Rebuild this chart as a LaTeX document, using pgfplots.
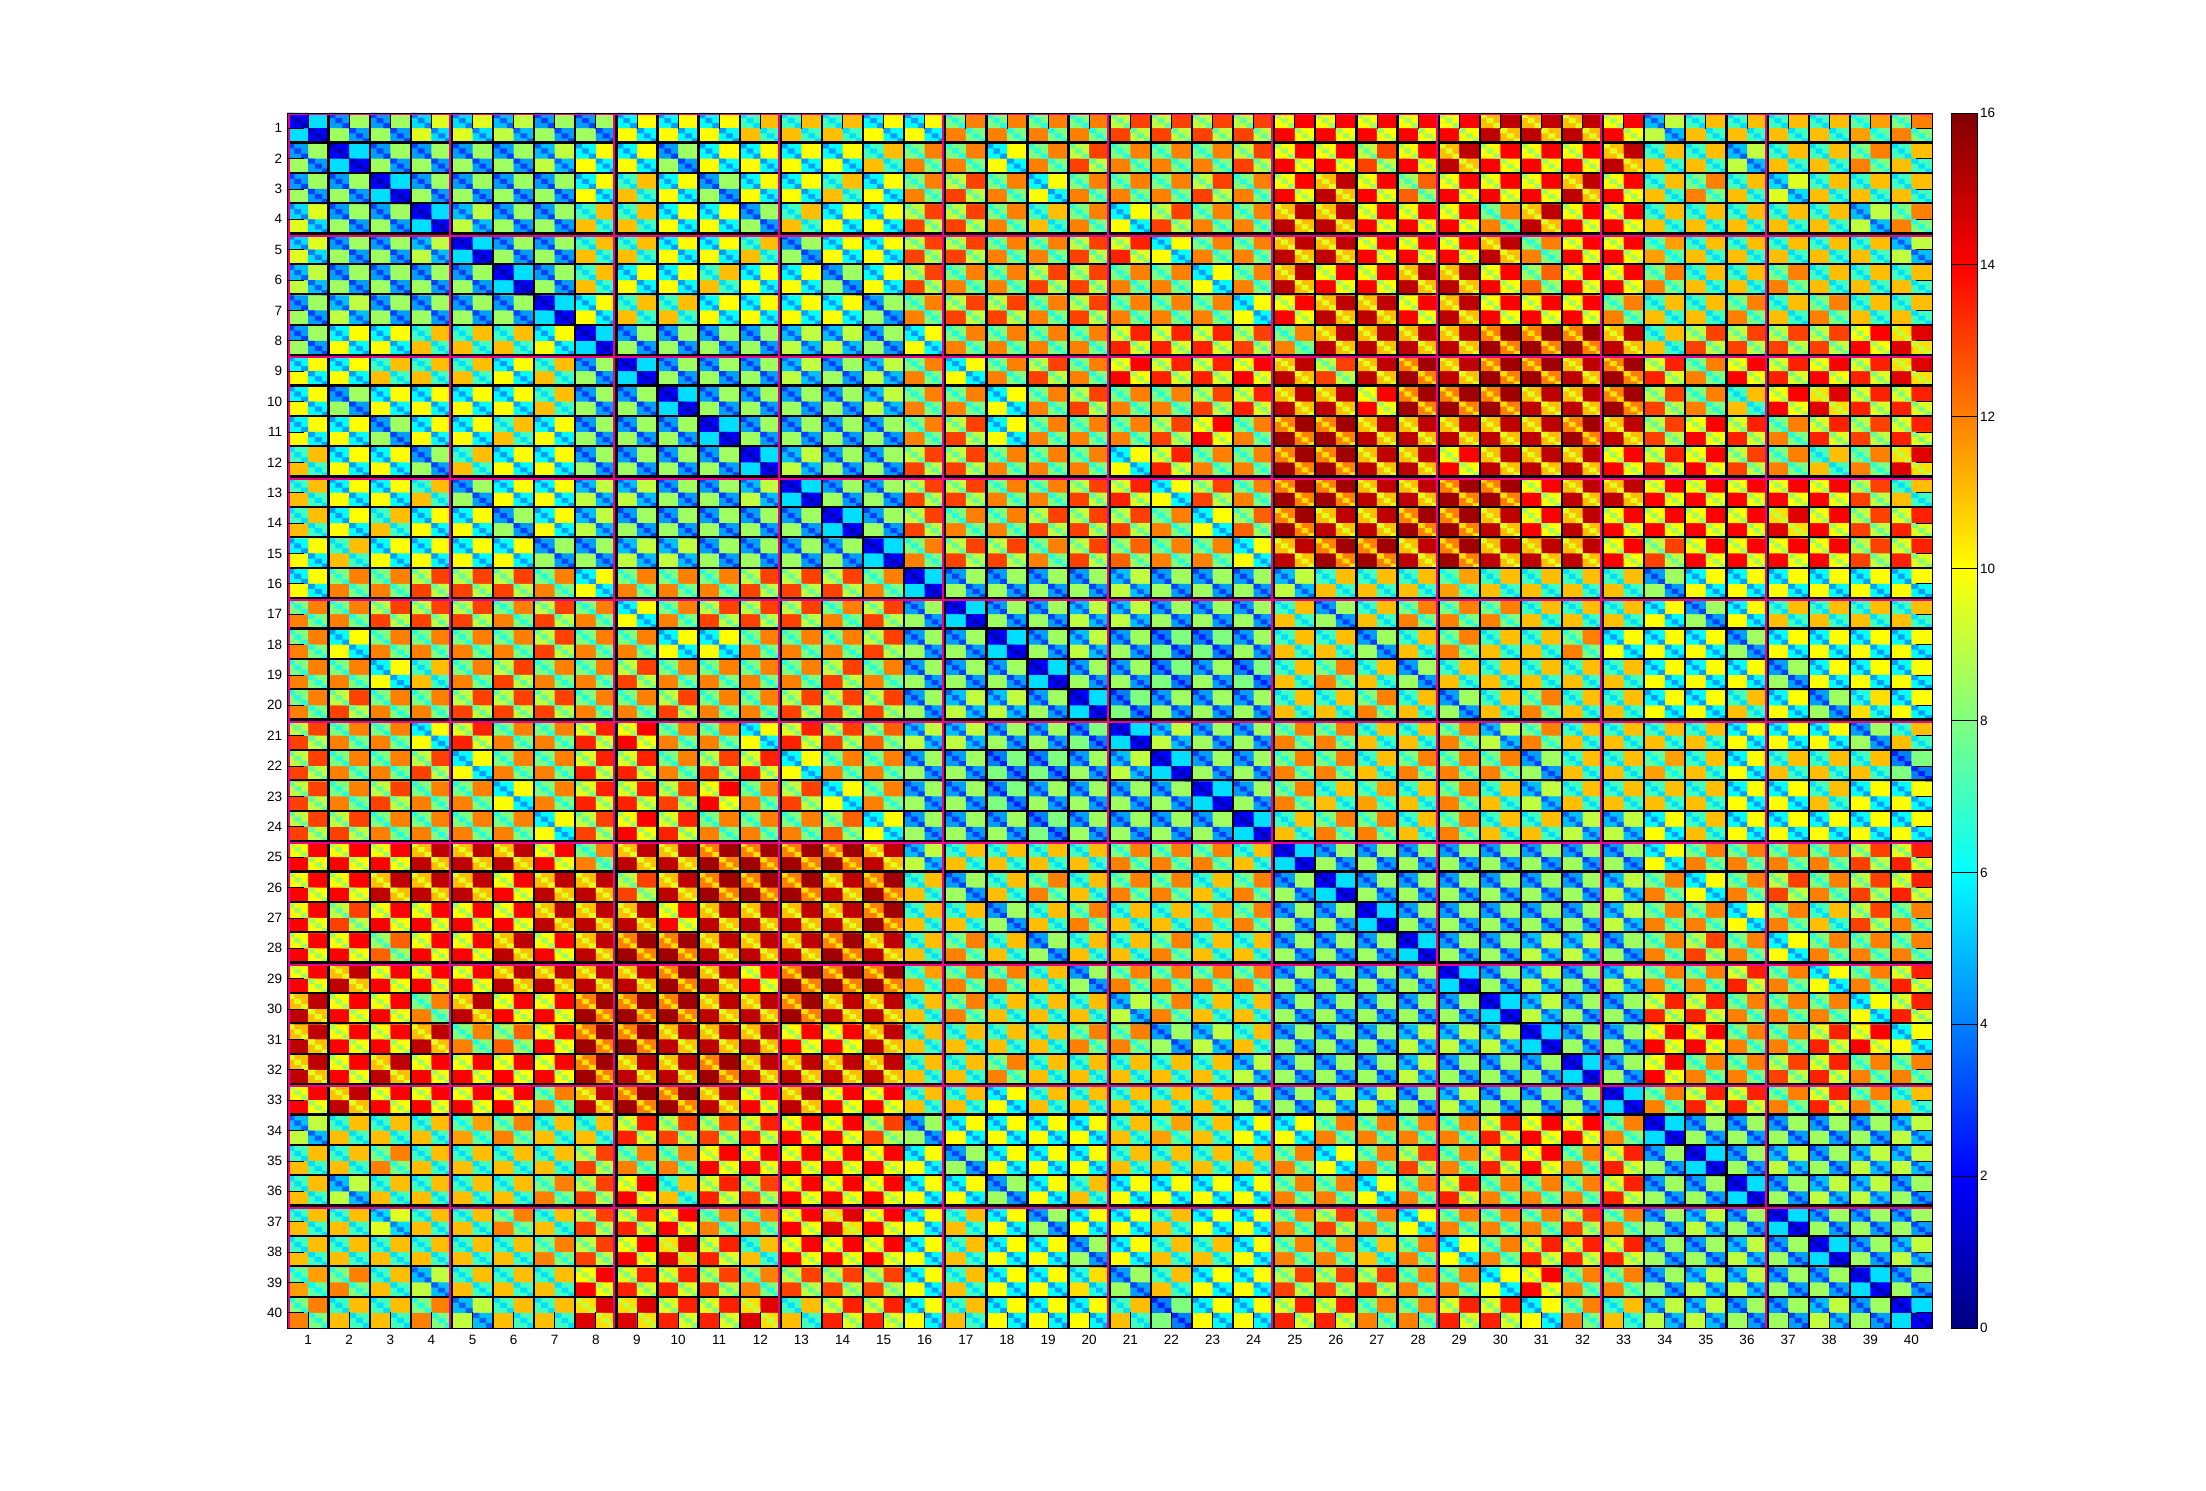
\documentclass[border=0pt]{standalone}
\usepackage{fontspec}
\setmainfont{Liberation Sans}
\usepackage{pgfplots}
\usepackage{pgfplotstable}
\pgfplotsset{compat=1.18}

% one block of the image is 41.113 x 30.375 px, 1 px = 0.5 pt
\newdimen\bw \bw=20.5565pt
\newdimen\bh \bh=15.1875pt
\newdimen\cw \cw=3.42608pt
\newdimen\ch \ch=2.53125pt
\pgfdeclareplotmark{blk}{%
  \pgfpathrectangle{\pgfpoint{-3\cw}{-3\ch}}{\pgfpoint{\bw}{\bh}}\pgfusepathqfill}
\pgfdeclareplotmark{low}{%
  \pgfpathrectangle{\pgfpoint{-3\cw}{0pt}}{\pgfpoint{3\cw}{3\ch}}%
  \pgfpathrectangle{\pgfpoint{0pt}{-3\ch}}{\pgfpoint{3\cw}{3\ch}}\pgfusepathqfill}
\pgfdeclareplotmark{dgn}{%
  \pgfpathrectangle{\pgfpoint{-3\cw}{2\ch}}{\pgfpoint{\cw}{\ch}}%
  \pgfpathrectangle{\pgfpoint{-2\cw}{1\ch}}{\pgfpoint{\cw}{\ch}}%
  \pgfpathrectangle{\pgfpoint{-1\cw}{0pt}}{\pgfpoint{\cw}{\ch}}%
  \pgfpathrectangle{\pgfpoint{0pt}{-1\ch}}{\pgfpoint{\cw}{\ch}}%
  \pgfpathrectangle{\pgfpoint{1\cw}{-2\ch}}{\pgfpoint{\cw}{\ch}}%
  \pgfpathrectangle{\pgfpoint{2\cw}{-3\ch}}{\pgfpoint{\cw}{\ch}}\pgfusepathqfill}

% off-diagonal quadrants of each block
\pgfplotstableread[header=false]{
5.5 8.5 8.5 9.5 9.5 9 8.5 8.5 10 10 10 11 11 11 10 10 12 12 12 12 13 13 13 13 14 14 14 14 14 15 15 15 14 9 11 11 11 11 11.5 12
8.5 5.5 8.5 8.5 8.5 8.5 9 10 10 8.5 10 10 10 10 11 12 12 10 12 13 12 12 12 13 14 14 13 14 15 14 14 14 15 11 11 9 11 11 12 11
8.5 8.5 5.5 8.5 8.5 8.5 8.5 10 11 10 8.5 10 10 11 10 12 13 12 10 12 12 12 13 12 14 15 14 12.5 14 14 14 15 14 11 12 11 9.5 11 11 11
9.5 8.5 8.5 5.5 9 8.5 8.5 11 11 10 10 8.5 11 10 10 13 13 12 11 12 10 13 12 12 15 15 14 14 14 12 15 14 14 11 11 11 11 11 9 12
9.5 8.5 8.5 9 5.5 8.5 8.5 11 11 10 10 11 8.5 10 10 13 13 12 12 13 13.5 10 12 12 15 15 14 14 14 15 12 14 14 11.5 11 11 11 11 11 9
9 8.5 8.5 8.5 8.5 5.5 8.5 11 10 10 11 10 10 8.5 10 13 12 12 13 13 12 12 10 12 15 14 14 15 15 14 12.5 14 14 12 11 11 12 11 11 11
8.5 9 8.5 8.5 8.5 8.5 5.5 10 11 11 10 10 10 10 8.5 12 13 13 12 13 12 12 12 10 14 15 15 14 15 14 14 14 12 11 11 12 11 12 11 11
8.5 10 10 11 11 11 10 5.5 8.5 8.5 8.5 8.5 9 9 8.5 10 12 12 12 12 13.5 13.5 13.5 13 12 15 15 15 15 15.5 15.5 15.5 15 11 13 13 13 13 14 14.5
10 10 11 11 11 10 11 8.5 5.5 8.5 8.5 8.5 9 8.5 9 12 10 12 13 12 14 13.5 13.5 14 15 13 15 15.5 15 15.5 15.5 15 15.5 13.5 12 14 13.5 14 13.5 14.5
10 8.5 10 10 10 10 11 8.5 8.5 5.5 8.5 8.5 8.5 8.5 9 12 12 10 12 13 12 12 13 13.5 15 15 14 15.5 15.5 15.5 15 15 15.5 13 12 11 14 14.5 13.5 13.5
10 10 8.5 10 10 11 10 8.5 8.5 8.5 5.5 8.5 8.5 8.5 8.5 12 13 10 12 12 12 13 14 12 15.5 15.5 15 15 15 15 15 15.5 15 13 14 13.5 12 13.5 13 13.5
11 10 10 8.5 11 10 10 8.5 8.5 8.5 8.5 5.5 9 8.5 8.5 13 13 12 12 12 10 13.5 12 12 15.5 15.5 15 15 14 15 15 15 14 13.5 14 13 12 11 12 14.5
11 10 10 11 8.5 10 10 9 9 8.5 8.5 9 5.5 8.5 8.5 13 13 12 12 13 13.5 10 13 12 15.5 15.5 15 15 15.5 15.5 14 15 15 14 14 14 14 14 13 11
11 10 11 10 10 8.5 10 9 8.5 8.5 8.5 8.5 8.5 5.5 8.5 13 12 12 13 13 13 12 10 12.5 15.5 15 15 15.5 15.5 15 14 15 14 14 14 14 14.5 14 13 13.5
10 11 10 10 10 10 8.5 8.5 9 9 8.5 8.5 8.5 8.5 5.5 12 13 13 12 13 12.5 12 12 10 15 15.5 15.5 15 15.5 15 15 15 14 13 14 14 14 14 13 13.5
10 12 12 13 13 13 12 10 12 12 12 13 13 13 12 5.5 8.5 8.5 8.5 8.5 9 8.5 8.5 8.5 9 11 11 11 11.5 11 11 11 11 8.5 10 10 10 10 10 10
12 12 13 13 13 12 13 12 10 12 13 13 13 12 13 8.5 5.5 8.5 8.5 9 9 8.5 8.5 8.5 11 8.5 11 12 12 12 11 11 11 10 8.5 10 11 11 11 11
12 10 12 12 12 12 13 12 12 10 10 12 12 12 13 8.5 8.5 5.5 8.5 9 8.5 8 8 8.5 11 11 8.5 11 12 11 11 12 10 10 10 8.5 10 10 10 10
12 12 10 11 12 13 12 12 13 12 12 12 12 13 12 8.5 8.5 8.5 5.5 8.5 8.5 8 8.5 8 11 12 11 8.5 11 11 11 11 11 10 10 10 8.5 10 10 10
12 13 12 12 13 13 13 12 12 13 12 12 13 13 13 8.5 9 9 8.5 5.5 8 8.5 8.5 8.5 11 11 12 11 8.5 11 12 11 11 10 10 11 10 8.5 10.5 10
13 12 12 10 13.5 12 12 13.5 14 12 12 10 13.5 13 12.5 9 9 8.5 8.5 8 5.5 9 8.5 8.5 12 12 11 11 12 9 12 11 11 11 11 10 10 10 8.5 11
13 12 12 13 10 12 12 13.5 13.5 12 13 13.5 10 12 12 8.5 8.5 8 8 8.5 9 5.5 8.5 8.5 12 12 11 12 12 12 8.5 11 11 11.5 11 10 11 11 11 8
13 12 13 12 12 10 12 13.5 13.5 13 14 12 13 10 12 8.5 8.5 8 8.5 8.5 8.5 8.5 5.5 8.5 12 11 11.5 11 12 11 9 11 11 11 11 10 10 11 10 10
13 13 12 12 12 12 10 13 14 13.5 12 12 12 12.5 10 8.5 8.5 8.5 8 8.5 8.5 8.5 8.5 5.5 11 12 12 11 12 11 11 9 9 10 11 10 10 10 10 10
14 14 14 15 15 15 14 12 15 15 15.5 15.5 15.5 15.5 15 9 11 11 11 11 12 12 12 11 5.5 8.5 8.5 8.5 8.5 8.5 8.5 8.5 8.5 10 12 12 12 12 13 13.5
14 14 15 15 15 14 15 15 13 15 15.5 15.5 15.5 15 15.5 11 8.5 11 12 11 12 12 11 12 8.5 5.5 8.5 8.5 8.5 8.5 8.5 8.5 9 12 10 12 13 12 13 13.5
14 13 14 14 14 14 15 15 15 14 15 15 15 15 15.5 11 11 8.5 11 12 11 11 11.5 12 8.5 8.5 5.5 8.5 8.5 8.5 8.5 8.5 9 12 12 10 12 11 13 12
14 14 12.5 14 14 15 14 15 15.5 15.5 15 15 15 15.5 15 11 12 11 8.5 11 11 12 11 11 8.5 8.5 8.5 5.5 8.5 8.5 9 9 8.5 12 13 12 10 12 12 12
14 15 14 14 14 15 15 15 15 15.5 15 14 15.5 15.5 15.5 11.5 12 12 11 8.5 12 12 12 12 8.5 8.5 8.5 8.5 5.5 8.5 9 8.5 9 12 12 13.5 12 10 12 13.5
15 14 14 12 15 14 14 15.5 15.5 15.5 15 15 15.5 15 15 11 12 11 11 11 9 12 11 11 8.5 8.5 8.5 8.5 8.5 5.5 9 8.5 8.5 13.5 13.5 12 12 12 10 13.5
15 14 14 15 12 12.5 14 15.5 15.5 15 15 15 14 14 15 11 11 11 11 12 12 8.5 9 11 8.5 8.5 8.5 9 9 9 5.5 8.5 8.5 14 14 12 12 13.5 14 10
15 14 15 14 14 14 14 15.5 15 15 15.5 15 15 15 15 11 11 12 11 11 11 11 11 9 8.5 8.5 8.5 9 8.5 8.5 8.5 5.5 8.5 14 12 12 13 13.5 12 12
14 15 14 14 14 14 12 15 15.5 15.5 15 14 15 14 14 11 11 10 11 11 11 11 11 9 8.5 9 9 8.5 9 8.5 8.5 8.5 5.5 12 13.5 13.5 12 13.5 12 11
9 11 11 11 11.5 12 11 11 13.5 13 13 13.5 14 14 13 8.5 10 10 10 10 11 11.5 11 10 10 12 12 12 12 13.5 14 14 12 5.5 8.5 8.5 8.5 8.5 8.5 9
11 11 12 11 11 11 11 13 12 12 14 14 14 14 14 10 8.5 10 10 10 11 11 11 11 12 10 12 13 12 13.5 14 12 13.5 8.5 5.5 8.5 9 8.5 9 9
11 9 11 11 11 11 12 13 14 11 13.5 13 14 14 14 10 10 8.5 10 11 10 10 10 10 12 12 10 12 13.5 12 12 12 13.5 8.5 8.5 5.5 8.5 9 9 8.5
11 11 9.5 11 11 12 11 13 13.5 14 12 12 14 14.5 14 10 11 10 8.5 10 10 11 10 10 12 13 12 10 12 12 12 13 12 8.5 9 8.5 5.5 8.5 8.5 8.5
11 11 11 11 11 11 12 13 14 14.5 13.5 11 14 14 14 10 11 10 10 8.5 10 11 11 10 12 12 11 12 10 12 13.5 13.5 13.5 8.5 8.5 9 8.5 5.5 8.5 9
11.5 12 11 9 11 11 11 14 13.5 13.5 13 12 13 13 13 10 11 10 10 10.5 8.5 11 10 10 13 13 13 12 12 10 14 12 12 8.5 9 9 8.5 8.5 5.5 8.5
12 11 11 12 9 11 11 14.5 14.5 13.5 13.5 14.5 11 13.5 13.5 10 11 10 10 10 11 8 10 10 13.5 13.5 12 12 13.5 13.5 10 12 11 9 9 8.5 8.5 9 8.5 5.5
}\tH
% top-left and bottom-right quadrants
\pgfplotstableread[header=false]{
2 4.5 4.5 5.5 5.5 5 4.5 4.5 6 6 6 7 7 7 6 6 8 8 8 8 9 9 9 9 10 10 10 10 10 11 11 11 10 5 7 7 7 7 7.5 8
4.5 2 4.5 4.5 4.5 4.5 5 6 6 4.5 6 6 6 6 7 8 8 6 8 9 8 8 8 9 10 10 9 10 11 10 10 10 11 7 7 5 7 7 8 7
4.5 4.5 2 4.5 4.5 4.5 4.5 6 7 6 4.5 6 6 7 6 8 9 8 6 8 8 8 9 8 10 11 10 8.5 10 10 10 11 10 7 8 7 5.5 7 7 7
5.5 4.5 4.5 2 5 4.5 4.5 7 7 6 6 4.5 7 6 6 9 9 8 7 8 6 9 8 8 11 11 10 10 10 8 11 10 10 7 7 7 7 7 5 8
5.5 4.5 4.5 5 2 4.5 4.5 7 7 6 6 7 4.5 6 6 9 9 8 8 9 9.5 6 8 8 11 11 10 10 10 11 8 10 10 7.5 7 7 7 7 7 5
5 4.5 4.5 4.5 4.5 2 4.5 7 6 6 7 6 6 4.5 6 9 8 8 9 9 8 8 6 8 11 10 10 11 11 10 8.5 10 10 8 7 7 8 7 7 7
4.5 5 4.5 4.5 4.5 4.5 2 6 7 7 6 6 6 6 4.5 8 9 9 8 9 8 8 8 6 10 11 11 10 11 10 10 10 8 7 7 8 7 8 7 7
4.5 6 6 7 7 7 6 2 4.5 4.5 4.5 4.5 5 5 4.5 6 8 8 8 8 9.5 9.5 9.5 9 8 11 11 11 11 12 12 12 11 7 9 9 9 9 10 10.5
6 6 7 7 7 6 7 4.5 2 4.5 4.5 4.5 5 4.5 5 8 6 8 9 8 10 9.5 9.5 10 11 9 11 12 11 12 12 11 12 9.5 8 10 9.5 10 9.5 10.5
6 4.5 6 6 6 6 7 4.5 4.5 2 4.5 4.5 4.5 4.5 5 8 8 6 8 9 8 8 9 9.5 11 11 10 12 12 12 11 11 12 9 8 7 10 10.5 9.5 9.5
6 6 4.5 6 6 7 6 4.5 4.5 4.5 2 4.5 4.5 4.5 4.5 8 9 6 8 8 8 9 10 8 12 12 11 11 11 11 11 12 11 9 10 9.5 8 9.5 9 9.5
7 6 6 4.5 7 6 6 4.5 4.5 4.5 4.5 2 5 4.5 4.5 9 9 8 8 8 6 9.5 8 8 12 12 11 11 10 11 11 11 10 9.5 10 9 8 7 8 10.5
7 6 6 7 4.5 6 6 5 5 4.5 4.5 5 2 4.5 4.5 9 9 8 8 9 9.5 6 9 8 12 12 11 11 12 12 10 11 11 10 10 10 10 10 9 7
7 6 7 6 6 4.5 6 5 4.5 4.5 4.5 4.5 4.5 2 4.5 9 8 8 9 9 9 8 6 8.5 12 11 11 12 12 11 10 11 10 10 10 10 10.5 10 9 9.5
6 7 6 6 6 6 4.5 4.5 5 5 4.5 4.5 4.5 4.5 2 8 9 9 8 9 8.5 8 8 6 11 12 12 11 12 11 11 11 10 9 10 10 10 10 9 9.5
6 8 8 9 9 9 8 6 8 8 8 9 9 9 8 2 4.5 4.5 4.5 4.5 5 4.5 4.5 4.5 5 7 7 7 7.5 7 7 7 7 4.5 6 6 6 6 6 6
8 8 9 9 9 8 9 8 6 8 9 9 9 8 9 4.5 2 4.5 4.5 5 5 4.5 4.5 4.5 7 4.5 7 8 8 8 7 7 7 6 4.5 6 7 7 7 7
8 6 8 8 8 8 9 8 8 6 6 8 8 8 9 4.5 4.5 2 4.5 5 4.5 4 4 4.5 7 7 4.5 7 8 7 7 8 6 6 6 4.5 6 6 6 6
8 8 6 7 8 9 8 8 9 8 8 8 8 9 8 4.5 4.5 4.5 2 4.5 4.5 4 4.5 4 7 8 7 4.5 7 7 7 7 7 6 6 6 4.5 6 6 6
8 9 8 8 9 9 9 8 8 9 8 8 9 9 9 4.5 5 5 4.5 2 4 4.5 4.5 4.5 7 7 8 7 4.5 7 8 7 7 6 6 7 6 4.5 6.5 6
9 8 8 6 9.5 8 8 9.5 10 8 8 6 9.5 9 8.5 5 5 4.5 4.5 4 2 5 4.5 4.5 8 8 7 7 8 5 8 7 7 7 7 6 6 6 4.5 7
9 8 8 9 6 8 8 9.5 9.5 8 9 9.5 6 8 8 4.5 4.5 4 4 4.5 5 2 4.5 4.5 8 8 7 8 8 8 4.5 7 7 7.5 7 6 7 7 7 4
9 8 9 8 8 6 8 9.5 9.5 9 10 8 9 6 8 4.5 4.5 4 4.5 4.5 4.5 4.5 2 4.5 8 7 7.5 7 8 7 5 7 7 7 7 6 6 7 6 6
9 9 8 8 8 8 6 9 10 9.5 8 8 8 8.5 6 4.5 4.5 4.5 4 4.5 4.5 4.5 4.5 2 7 8 8 7 8 7 7 5 5 6 7 6 6 6 6 6
10 10 10 11 11 11 10 8 11 11 12 12 12 12 11 5 7 7 7 7 8 8 8 7 2 4.5 4.5 4.5 4.5 4.5 4.5 4.5 4.5 6 8 8 8 8 9 9.5
10 10 11 11 11 10 11 11 9 11 12 12 12 11 12 7 4.5 7 8 7 8 8 7 8 4.5 2 4.5 4.5 4.5 4.5 4.5 4.5 5 8 6 8 9 8 9 9.5
10 9 10 10 10 10 11 11 11 10 11 11 11 11 12 7 7 4.5 7 8 7 7 7.5 8 4.5 4.5 2 4.5 4.5 4.5 4.5 4.5 5 8 8 6 8 7 9 8
10 10 8.5 10 10 11 10 11 12 12 11 11 11 12 11 7 8 7 4.5 7 7 8 7 7 4.5 4.5 4.5 2 4.5 4.5 5 5 4.5 8 9 8 6 8 8 8
10 11 10 10 10 11 11 11 11 12 11 10 12 12 12 7.5 8 8 7 4.5 8 8 8 8 4.5 4.5 4.5 4.5 2 4.5 5 4.5 5 8 8 9.5 8 6 8 9.5
11 10 10 8 11 10 10 12 12 12 11 11 12 11 11 7 8 7 7 7 5 8 7 7 4.5 4.5 4.5 4.5 4.5 2 5 4.5 4.5 9.5 9.5 8 8 8 6 9.5
11 10 10 11 8 8.5 10 12 12 11 11 11 10 10 11 7 7 7 7 8 8 4.5 5 7 4.5 4.5 4.5 5 5 5 2 4.5 4.5 10 10 8 8 9.5 10 6
11 10 11 10 10 10 10 12 11 11 12 11 11 11 11 7 7 8 7 7 7 7 7 5 4.5 4.5 4.5 5 4.5 4.5 4.5 2 4.5 10 8 8 9 9.5 8 8
10 11 10 10 10 10 8 11 12 12 11 10 11 10 10 7 7 6 7 7 7 7 7 5 4.5 5 5 4.5 5 4.5 4.5 4.5 2 8 9.5 9.5 8 9.5 8 7
5 7 7 7 7.5 8 7 7 9.5 9 9 9.5 10 10 9 4.5 6 6 6 6 7 7.5 7 6 6 8 8 8 8 9.5 10 10 8 2 4.5 4.5 4.5 4.5 4.5 5
7 7 8 7 7 7 7 9 8 8 10 10 10 10 10 6 4.5 6 6 6 7 7 7 7 8 6 8 9 8 9.5 10 8 9.5 4.5 2 4.5 5 4.5 5 5
7 5 7 7 7 7 8 9 10 7 9.5 9 10 10 10 6 6 4.5 6 7 6 6 6 6 8 8 6 8 9.5 8 8 8 9.5 4.5 4.5 2 4.5 5 5 4.5
7 7 5.5 7 7 8 7 9 9.5 10 8 8 10 10.5 10 6 7 6 4.5 6 6 7 6 6 8 9 8 6 8 8 8 9 8 4.5 5 4.5 2 4.5 4.5 4.5
7 7 7 7 7 7 8 9 10 10.5 9.5 7 10 10 10 6 7 6 6 4.5 6 7 7 6 8 8 7 8 6 8 9.5 9.5 9.5 4.5 4.5 5 4.5 2 4.5 5
7.5 8 7 5 7 7 7 10 9.5 9.5 9 8 9 9 9 6 7 6 6 6.5 4.5 7 6 6 9 9 9 8 8 6 10 8 8 4.5 5 5 4.5 4.5 2 4.5
8 7 7 8 5 7 7 10.5 10.5 9.5 9.5 10.5 7 9.5 9.5 6 7 6 6 6 7 4 6 6 9.5 9.5 8 8 9.5 9.5 6 8 7 5 5 4.5 4.5 5 4.5 2
}\tL
% the six diagonal cells
\pgfplotstableread[header=false]{
0.8 3 3 4 4 3.5 3 3 4.5 4.5 4.5 5.5 5.5 5.5 4.5 4.5 6.5 6.5 6.5 6.5 7.5 7.5 7.5 7.5 8.5 8.5 8.5 8.5 8.5 9.5 9.5 9.5 8.5 3.5 5.5 5.5 5.5 5.5 6 6.5
3 0.8 3 3 3 3 3.5 4.5 4.5 3 4.5 4.5 4.5 4.5 5.5 6.5 6.5 4.5 6.5 7.5 6.5 6.5 6.5 7.5 8.5 8.5 7.5 8.5 9.5 8.5 8.5 8.5 9.5 5.5 5.5 3.5 5.5 5.5 6.5 5.5
3 3 0.8 3 3 3 3 4.5 5.5 4.5 3 4.5 4.5 5.5 4.5 6.5 7.5 6.5 4.5 6.5 6.5 6.5 7.5 6.5 8.5 9.5 8.5 7 8.5 8.5 8.5 9.5 8.5 5.5 6.5 5.5 4 5.5 5.5 5.5
4 3 3 0.8 3.5 3 3 5.5 5.5 4.5 4.5 3 5.5 4.5 4.5 7.5 7.5 6.5 5.5 6.5 4.5 7.5 6.5 6.5 9.5 9.5 8.5 8.5 8.5 6.5 9.5 8.5 8.5 5.5 5.5 5.5 5.5 5.5 3.5 6.5
4 3 3 3.5 0.8 3 3 5.5 5.5 4.5 4.5 5.5 3 4.5 4.5 7.5 7.5 6.5 6.5 7.5 8 4.5 6.5 6.5 9.5 9.5 8.5 8.5 8.5 9.5 6.5 8.5 8.5 6 5.5 5.5 5.5 5.5 5.5 3.5
3.5 3 3 3 3 0.8 3 5.5 4.5 4.5 5.5 4.5 4.5 3 4.5 7.5 6.5 6.5 7.5 7.5 6.5 6.5 4.5 6.5 9.5 8.5 8.5 9.5 9.5 8.5 7 8.5 8.5 6.5 5.5 5.5 6.5 5.5 5.5 5.5
3 3.5 3 3 3 3 0.8 4.5 5.5 5.5 4.5 4.5 4.5 4.5 3 6.5 7.5 7.5 6.5 7.5 6.5 6.5 6.5 4.5 8.5 9.5 9.5 8.5 9.5 8.5 8.5 8.5 6.5 5.5 5.5 6.5 5.5 6.5 5.5 5.5
3 4.5 4.5 5.5 5.5 5.5 4.5 0.8 3 3 3 3 3.5 3.5 3 4.5 6.5 6.5 6.5 6.5 8 8 8 7.5 6.5 9.5 9.5 9.5 9.5 10.5 10.5 10.5 9.5 5.5 7.5 7.5 7.5 7.5 8.5 9
4.5 4.5 5.5 5.5 5.5 4.5 5.5 3 0.8 3 3 3 3.5 3 3.5 6.5 4.5 6.5 7.5 6.5 8.5 8 8 8.5 9.5 7.5 9.5 10.5 9.5 10.5 10.5 9.5 10.5 8 6.5 8.5 8 8.5 8 9
4.5 3 4.5 4.5 4.5 4.5 5.5 3 3 0.8 3 3 3 3 3.5 6.5 6.5 4.5 6.5 7.5 6.5 6.5 7.5 8 9.5 9.5 8.5 10.5 10.5 10.5 9.5 9.5 10.5 7.5 6.5 5.5 8.5 9 8 8
4.5 4.5 3 4.5 4.5 5.5 4.5 3 3 3 0.8 3 3 3 3 6.5 7.5 4.5 6.5 6.5 6.5 7.5 8.5 6.5 10.5 10.5 9.5 9.5 9.5 9.5 9.5 10.5 9.5 7.5 8.5 8 6.5 8 7.5 8
5.5 4.5 4.5 3 5.5 4.5 4.5 3 3 3 3 0.8 3.5 3 3 7.5 7.5 6.5 6.5 6.5 4.5 8 6.5 6.5 10.5 10.5 9.5 9.5 8.5 9.5 9.5 9.5 8.5 8 8.5 7.5 6.5 5.5 6.5 9
5.5 4.5 4.5 5.5 3 4.5 4.5 3.5 3.5 3 3 3.5 0.8 3 3 7.5 7.5 6.5 6.5 7.5 8 4.5 7.5 6.5 10.5 10.5 9.5 9.5 10.5 10.5 8.5 9.5 9.5 8.5 8.5 8.5 8.5 8.5 7.5 5.5
5.5 4.5 5.5 4.5 4.5 3 4.5 3.5 3 3 3 3 3 0.8 3 7.5 6.5 6.5 7.5 7.5 7.5 6.5 4.5 7 10.5 9.5 9.5 10.5 10.5 9.5 8.5 9.5 8.5 8.5 8.5 8.5 9 8.5 7.5 8
4.5 5.5 4.5 4.5 4.5 4.5 3 3 3.5 3.5 3 3 3 3 0.8 6.5 7.5 7.5 6.5 7.5 7 6.5 6.5 4.5 9.5 10.5 10.5 9.5 10.5 9.5 9.5 9.5 8.5 7.5 8.5 8.5 8.5 8.5 7.5 8
4.5 6.5 6.5 7.5 7.5 7.5 6.5 4.5 6.5 6.5 6.5 7.5 7.5 7.5 6.5 0.8 3 3 3 3 3.5 3 3 3 3.5 5.5 5.5 5.5 6 5.5 5.5 5.5 5.5 3 4.5 4.5 4.5 4.5 4.5 4.5
6.5 6.5 7.5 7.5 7.5 6.5 7.5 6.5 4.5 6.5 7.5 7.5 7.5 6.5 7.5 3 0.8 3 3 3.5 3.5 3 3 3 5.5 3 5.5 6.5 6.5 6.5 5.5 5.5 5.5 4.5 3 4.5 5.5 5.5 5.5 5.5
6.5 4.5 6.5 6.5 6.5 6.5 7.5 6.5 6.5 4.5 4.5 6.5 6.5 6.5 7.5 3 3 0.8 3 3.5 3 2.5 2.5 3 5.5 5.5 3 5.5 6.5 5.5 5.5 6.5 4.5 4.5 4.5 3 4.5 4.5 4.5 4.5
6.5 6.5 4.5 5.5 6.5 7.5 6.5 6.5 7.5 6.5 6.5 6.5 6.5 7.5 6.5 3 3 3 0.8 3 3 2.5 3 2.5 5.5 6.5 5.5 3 5.5 5.5 5.5 5.5 5.5 4.5 4.5 4.5 3 4.5 4.5 4.5
6.5 7.5 6.5 6.5 7.5 7.5 7.5 6.5 6.5 7.5 6.5 6.5 7.5 7.5 7.5 3 3.5 3.5 3 0.8 2.5 3 3 3 5.5 5.5 6.5 5.5 3 5.5 6.5 5.5 5.5 4.5 4.5 5.5 4.5 3 5 4.5
7.5 6.5 6.5 4.5 8 6.5 6.5 8 8.5 6.5 6.5 4.5 8 7.5 7 3.5 3.5 3 3 2.5 0.8 3.5 3 3 6.5 6.5 5.5 5.5 6.5 3.5 6.5 5.5 5.5 5.5 5.5 4.5 4.5 4.5 3 5.5
7.5 6.5 6.5 7.5 4.5 6.5 6.5 8 8 6.5 7.5 8 4.5 6.5 6.5 3 3 2.5 2.5 3 3.5 0.8 3 3 6.5 6.5 5.5 6.5 6.5 6.5 3 5.5 5.5 6 5.5 4.5 5.5 5.5 5.5 2.5
7.5 6.5 7.5 6.5 6.5 4.5 6.5 8 8 7.5 8.5 6.5 7.5 4.5 6.5 3 3 2.5 3 3 3 3 0.8 3 6.5 5.5 6 5.5 6.5 5.5 3.5 5.5 5.5 5.5 5.5 4.5 4.5 5.5 4.5 4.5
7.5 7.5 6.5 6.5 6.5 6.5 4.5 7.5 8.5 8 6.5 6.5 6.5 7 4.5 3 3 3 2.5 3 3 3 3 0.8 5.5 6.5 6.5 5.5 6.5 5.5 5.5 3.5 3.5 4.5 5.5 4.5 4.5 4.5 4.5 4.5
8.5 8.5 8.5 9.5 9.5 9.5 8.5 6.5 9.5 9.5 10.5 10.5 10.5 10.5 9.5 3.5 5.5 5.5 5.5 5.5 6.5 6.5 6.5 5.5 0.8 3 3 3 3 3 3 3 3 4.5 6.5 6.5 6.5 6.5 7.5 8
8.5 8.5 9.5 9.5 9.5 8.5 9.5 9.5 7.5 9.5 10.5 10.5 10.5 9.5 10.5 5.5 3 5.5 6.5 5.5 6.5 6.5 5.5 6.5 3 0.8 3 3 3 3 3 3 3.5 6.5 4.5 6.5 7.5 6.5 7.5 8
8.5 7.5 8.5 8.5 8.5 8.5 9.5 9.5 9.5 8.5 9.5 9.5 9.5 9.5 10.5 5.5 5.5 3 5.5 6.5 5.5 5.5 6 6.5 3 3 0.8 3 3 3 3 3 3.5 6.5 6.5 4.5 6.5 5.5 7.5 6.5
8.5 8.5 7 8.5 8.5 9.5 8.5 9.5 10.5 10.5 9.5 9.5 9.5 10.5 9.5 5.5 6.5 5.5 3 5.5 5.5 6.5 5.5 5.5 3 3 3 0.8 3 3 3.5 3.5 3 6.5 7.5 6.5 4.5 6.5 6.5 6.5
8.5 9.5 8.5 8.5 8.5 9.5 9.5 9.5 9.5 10.5 9.5 8.5 10.5 10.5 10.5 6 6.5 6.5 5.5 3 6.5 6.5 6.5 6.5 3 3 3 3 0.8 3 3.5 3 3.5 6.5 6.5 8 6.5 4.5 6.5 8
9.5 8.5 8.5 6.5 9.5 8.5 8.5 10.5 10.5 10.5 9.5 9.5 10.5 9.5 9.5 5.5 6.5 5.5 5.5 5.5 3.5 6.5 5.5 5.5 3 3 3 3 3 0.8 3.5 3 3 8 8 6.5 6.5 6.5 4.5 8
9.5 8.5 8.5 9.5 6.5 7 8.5 10.5 10.5 9.5 9.5 9.5 8.5 8.5 9.5 5.5 5.5 5.5 5.5 6.5 6.5 3 3.5 5.5 3 3 3 3.5 3.5 3.5 0.8 3 3 8.5 8.5 6.5 6.5 8 8.5 4.5
9.5 8.5 9.5 8.5 8.5 8.5 8.5 10.5 9.5 9.5 10.5 9.5 9.5 9.5 9.5 5.5 5.5 6.5 5.5 5.5 5.5 5.5 5.5 3.5 3 3 3 3.5 3 3 3 0.8 3 8.5 6.5 6.5 7.5 8 6.5 6.5
8.5 9.5 8.5 8.5 8.5 8.5 6.5 9.5 10.5 10.5 9.5 8.5 9.5 8.5 8.5 5.5 5.5 4.5 5.5 5.5 5.5 5.5 5.5 3.5 3 3.5 3.5 3 3.5 3 3 3 0.8 6.5 8 8 6.5 8 6.5 5.5
3.5 5.5 5.5 5.5 6 6.5 5.5 5.5 8 7.5 7.5 8 8.5 8.5 7.5 3 4.5 4.5 4.5 4.5 5.5 6 5.5 4.5 4.5 6.5 6.5 6.5 6.5 8 8.5 8.5 6.5 0.8 3 3 3 3 3 3.5
5.5 5.5 6.5 5.5 5.5 5.5 5.5 7.5 6.5 6.5 8.5 8.5 8.5 8.5 8.5 4.5 3 4.5 4.5 4.5 5.5 5.5 5.5 5.5 6.5 4.5 6.5 7.5 6.5 8 8.5 6.5 8 3 0.8 3 3.5 3 3.5 3.5
5.5 3.5 5.5 5.5 5.5 5.5 6.5 7.5 8.5 5.5 8 7.5 8.5 8.5 8.5 4.5 4.5 3 4.5 5.5 4.5 4.5 4.5 4.5 6.5 6.5 4.5 6.5 8 6.5 6.5 6.5 8 3 3 0.8 3 3.5 3.5 3
5.5 5.5 4 5.5 5.5 6.5 5.5 7.5 8 8.5 6.5 6.5 8.5 9 8.5 4.5 5.5 4.5 3 4.5 4.5 5.5 4.5 4.5 6.5 7.5 6.5 4.5 6.5 6.5 6.5 7.5 6.5 3 3.5 3 0.8 3 3 3
5.5 5.5 5.5 5.5 5.5 5.5 6.5 7.5 8.5 9 8 5.5 8.5 8.5 8.5 4.5 5.5 4.5 4.5 3 4.5 5.5 5.5 4.5 6.5 6.5 5.5 6.5 4.5 6.5 8 8 8 3 3 3.5 3 0.8 3 3.5
6 6.5 5.5 3.5 5.5 5.5 5.5 8.5 8 8 7.5 6.5 7.5 7.5 7.5 4.5 5.5 4.5 4.5 5 3 5.5 4.5 4.5 7.5 7.5 7.5 6.5 6.5 4.5 8.5 6.5 6.5 3 3.5 3.5 3 3 0.8 3
6.5 5.5 5.5 6.5 3.5 5.5 5.5 9 9 8 8 9 5.5 8 8 4.5 5.5 4.5 4.5 4.5 5.5 2.5 4.5 4.5 8 8 6.5 6.5 8 8 4.5 6.5 5.5 3.5 3.5 3 3 3.5 3 0.8
}\tD

\pgfplotsset{
  tick label style={font=\fontsize{6.75}{8}\selectfont},
  /pgf/number format/assume math mode=true,
}

\begin{document}
\begin{tikzpicture}
\path[use as bounding box] (-143.75pt,-81.5pt) rectangle (959.25pt,664pt);
\begin{axis}[
  scale only axis,
  width=822.25pt, height=607.5pt,
  xmin=0.5, xmax=40.5, ymin=0.5, ymax=40.5,
  y dir=reverse,
  xtick={1,...,40}, ytick={1,...,40},
  xticklabel pos=lower,
  yticklabel style={xshift=0.8pt},
  tick align=inside,
  major tick length=8pt,
  tick style={black, line width=0.4pt},
  axis line style={line width=0.5pt},
  axis on top,
  clip mode=individual,
  colormap/jet,
  point meta min=0, point meta max=16,
  scatter/use mapped color={draw=none, fill=mapped color},
  colorbar,
  colorbar style={
    at={(1.01186,1)}, anchor=north west,
    width=12.75pt,
    ytick={0,2,...,16},
    ytick pos=both, yticklabel pos=right,
    yticklabel style={xshift=-2pt},
    tick align=inside,
    major tick length=6.4pt,
    tick style={black, line width=0.4pt},
  },
]
\pgfplotsinvokeforeach{0,...,39}{
  \addplot[scatter, only marks, mark=blk, point meta=explicit, forget plot]
    table[x expr=#1+1, y expr=\coordindex+1, meta index=#1] {\tH};
}
\pgfplotsinvokeforeach{0,...,39}{
  \addplot[scatter, only marks, mark=low, point meta=explicit, forget plot]
    table[x expr=#1+1, y expr=\coordindex+1, meta index=#1] {\tL};
}
\pgfplotsinvokeforeach{0,...,39}{
  \addplot[scatter, only marks, mark=dgn, point meta=explicit, forget plot]
    table[x expr=#1+1, y expr=\coordindex+1, meta index=#1] {\tD};
}
% black lines between blocks
\pgfplotsinvokeforeach{1.5,2.5,...,39.5}{
  \addplot[black, line width=1.15pt, forget plot] coordinates {(#1,0.5) (#1,40.5)};
}
\pgfplotsinvokeforeach{1.47,2.47,...,39.47}{
  \addplot[black, line width=1.15pt, forget plot] coordinates {(0.5,#1) (40.5,#1)};
}
% magenta lines every four blocks
\foreach \m in {0.53,4.45,8.45,12.45,16.45,20.45,24.45,28.45,32.45,36.45} {
  \edef\tmp{\noexpand\addplot[magenta, line width=1pt, forget plot] coordinates {(\m,0.5) (\m,40.5)};}
  \tmp
}
\foreach \m in {0.54,4.54,8.54,12.54,16.54,20.54,24.54,28.54,32.54,36.54} {
  \edef\tmp{\noexpand\addplot[magenta, line width=1pt, forget plot] coordinates {(0.5,\m) (40.5,\m)};}
  \tmp
}
\end{axis}
\end{tikzpicture}
\end{document}
